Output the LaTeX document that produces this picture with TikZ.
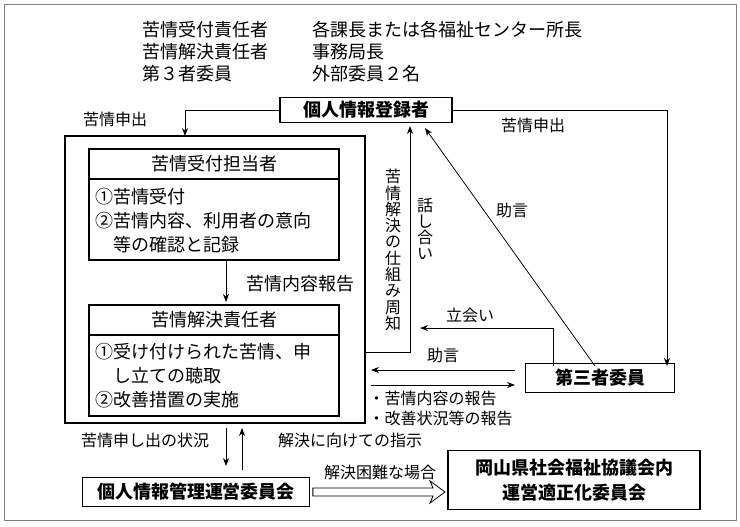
\documentclass[tikz,border=0pt]{standalone}
\usepackage{fontspec}
\setmainfont{Noto Sans CJK JP}
\usetikzlibrary{arrows.meta,calc}
\tikzset{
  box/.style={draw, thick, font=\fontsize{13.5}{19}\selectfont\bfseries, inner sep=3pt},
  lbl/.style={font=\fontsize{12}{16}\selectfont},
  big/.style={font=\fontsize{13.5}{18}\selectfont},
  vert/.style={align=center, inner sep=0pt, font=\fontsize{12}{12.2}\selectfont},
  arr/.style={-{Stealth[length=6pt]}, semithick},
}
\begin{document}
\begin{tikzpicture}[x=0.75pt, y=-0.75pt]
    \useasboundingbox (0,0) rectangle (740,526);
    \draw[semithick, gray] (4,4) rectangle (736,520);

    % Legende
    \node[big, anchor=west] (r1) at (138,30) {苦情受付責任者};
    \node[big, anchor=west] (v1) at (308,30) {各課長または各福祉センター所長};
    \node[big, anchor=west] (r2) at (138,52) {苦情解決責任者};
    \node[big, anchor=west] (v2) at (308,52) {事務局長};
    \node[big, anchor=west] (r3) at (138,74) {第３者委員};
    \node[big, anchor=west] (v3) at (308,74) {外部委員２名};

    % Noeuds
    \node[box, minimum width=129pt, minimum height=18pt] (reg) at (366,110) {個人情報登録者};
    \node[box, minimum width=112pt, minimum height=22pt] (third) at (600,378) {第三者委員};
    \node[box, minimum width=170pt, minimum height=22pt] (mgmt) at (196,492) {個人情報管理運営委員会};
    \node[box, minimum width=189pt, minimum height=44pt, align=center] (pref) at (574,480)
    {岡山県社会福祉協議会内\\運営適正化委員会};

    % Cadre principal
    \draw[thick] (65,136) rectangle (365,423);
    \coordinate (frameTop) at (185,136);
    \coordinate (frameR) at (365,352);

    % Accueil
    \draw[thick] (89,149) rectangle (339,260);
    \draw[thick] (89,179) -- (339,179);
    \node[big] (recv) at (214,164) {苦情受付担当者};
    \node[big, anchor=west, align=left] (recvItems) at (91,221)
    {①苦情受付\\②苦情内容、利用者の意向\\\hspace{1em}等の確認と記録};

    % Resolution
    \draw[thick] (89,305) rectangle (339,416);
    \draw[thick] (89,335) -- (339,335);
    \node[big] (resp) at (214,320) {苦情解決責任者};
    \node[big, anchor=west, align=left] (respItems) at (91,376)
    {①受け付けられた苦情、申\\\hspace{1em}し立ての聴取\\②改善措置の実施};

    \coordinate (recvB) at (226,260);
    \coordinate (respT) at (226,302);
    \draw[arr] (recvB) -- (respT);
    \node[big] (rep) at (300,284) {苦情内容報告};

    % Fleches du haut
    \coordinate (thirdIn) at (667,366);
    \draw[arr] (reg.west) -| (frameTop);
    \node[lbl] (c1) at (115,119) {苦情申出};
    \draw[arr] (reg.east) -| (thirdIn);
    \node[lbl] (c2) at (533,125) {苦情申出};

    % Mecanisme
    \coordinate (mechTop) at (410,126);
    \draw[arr] (frameR) -| (mechTop);
    \node[vert] (mech) at (393,250)
    {苦\\情\\解\\決\\の\\仕\\組\\み\\周\\知};
    \node[vert] (talk) at (425,229)
    {話\\し\\合\\い};

    % Tiers
    \coordinate (diagStart) at (595,366);
    \coordinate (diagEnd) at (425,128);
    \draw[arr] (diagStart) -- (diagEnd);
    \node[lbl] (adv1) at (512,210) {助言};
    \coordinate (witB) at (553,366);
    \coordinate (witT) at (553,328);
    \coordinate (witE) at (420,328);
    \draw[arr] (witB) -- (witT) -- (witE);
    \node[lbl] (wit) at (470,315) {立会い};
    \coordinate (advS) at (515,370);
    \coordinate (advE) at (371,370);
    \draw[arr] (advS) -- (advE);
    \node[lbl] (adv2) at (443,355) {助言};
    \coordinate (repS) at (371,385);
    \coordinate (repE) at (515,385);
    \draw[arr] (repS) -- (repE);
    \node[lbl, anchor=west, align=left, font=\fontsize{12}{15}\selectfont] (reps) at (364,408)
    {・苦情内容の報告\\・改善状況等の報告};

    % Bas
    \coordinate (downS) at (226,428);
    \coordinate (downE) at (226,466);
    \coordinate (upS) at (242,470);
    \coordinate (upE) at (242,428);
    \draw[arr] (downS) -- (downE);
    \draw[arr] (upS) -- (upE);
    \node[lbl] (stat) at (145,440) {苦情申し出の状況};
    \node[lbl] (instr) at (350,440) {解決に向けての指示};
    \coordinate (hollowS) at ($(mgmt.east)+(3,0)$);
    \draw[semithick] ($(hollowS)+(0,-4)$) -- (433,488) -- (430,481) -- (445,492)
      -- (430,503) -- (433,496) -- ($(hollowS)+(0,4)$) -- cycle;
    \node[lbl] (hard) at (380,472) {解決困難な場合};
\end{tikzpicture}
\end{document}
